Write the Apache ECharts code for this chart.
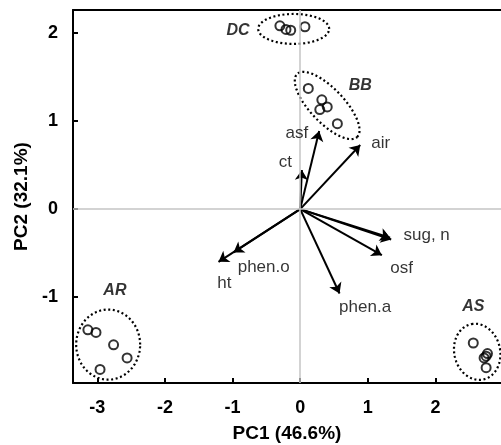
<!DOCTYPE html>
<html>
<head>
<meta charset="utf-8">
<script src="https://cdn.jsdelivr.net/npm/echarts@6/dist/echarts.min.js"></script>
<style>
html,body{margin:0;padding:0;background:#fff;}
#chart{width:501px;height:445px;}
</style>
</head>
<body>
<div id="chart"></div>
<script>
// Axis ticks
const xTicks = [-3, -2, -1, 0, 1, 2];
const yTicks = [-1, 0, 1, 2];

// Sample scores (PC1, PC2) per group
const dcX = [-0.30, -0.21, -0.14, 0.07];
const dcY = [2.08, 2.04, 2.03, 2.07];
const bbX = [0.12, 0.32, 0.40, 0.29, 0.55];
const bbY = [1.37, 1.24, 1.16, 1.13, 0.97];
const arX = [-3.14, -3.02, -2.76, -2.56, -2.96];
const arY = [-1.37, -1.40, -1.54, -1.69, -1.82];
const asX = [2.56, 2.77, 2.75, 2.72, 2.75];
const asY = [-1.52, -1.64, -1.67, -1.69, -1.80];

// Group names and label anchors
const groupNames = ['DC', 'BB', 'AR', 'AS'];
const groupLabelX = [-0.92, 0.89, -2.74, 2.56];
const groupLabelY = [2.03, 1.40, -0.92, -1.11];

// Group ellipses: centre and two conjugate semi-axis vectors (data units)
const ellCX = [-0.096, 0.399, -2.84, 2.618];
const ellCY = [2.045, 1.176, -1.538, -1.62];
const ellUX = [0.525, 0.443, 0.473, -0.085];
const ellUY = [0, -0.358, 0, 0.315];
const ellVX = [0, 0.182, 0, 0.333];
const ellVY = [0.17, 0.133, 0.398, 0.05];

// Loadings (arrows from origin)
const varNames = ['asf', 'ct', 'air', 'sug', 'n', 'osf', 'phen.a', 'phen.o', 'ht'];
const varX = [0.281, 0.025, 0.888, 1.346, 1.33, 1.208, 0.582, -0.986, -1.208];
const varY = [0.886, 0.443, 0.727, -0.345, -0.325, -0.523, -0.958, -0.492, -0.599];

// Arrow labels and anchors
const varLabels = ['asf', 'ct', 'air', 'sug, n', 'osf', 'phen.a', 'phen.o', 'ht'];
const varLabelX = [-0.05, -0.22, 1.19, 1.87, 1.50, 0.96, -0.54, -1.12];
const varLabelY = [0.86, 0.53, 0.75, -0.30, -0.67, -1.12, -0.66, -0.84];

const FONT = "'Liberation Sans', Arial, Helvetica, sans-serif";
const xMin = -3.36, xMax = 2.97, yMin = -1.974, yMax = 2.26;

const zip = (a, b) => a.map((v, i) => [v, b[i]]);
const samples = [].concat(zip(dcX, dcY), zip(bbX, bbY), zip(arX, arY), zip(asX, asY));

const chart = echarts.init(document.getElementById('chart'), null, {renderer: 'canvas'});

const option = {
  animation: false,
  backgroundColor: '#fff',
  grid: {left: 73, right: 0, top: 10, bottom: 62, containLabel: false, outerBoundsMode: 'none'},
  xAxis: [{
    type: 'value', min: xMin, max: xMax, position: 'bottom',
    axisLine: {onZero: false, lineStyle: {color: '#000', width: 2}},
    axisTick: {show: true, inside: true, length: 5, customValues: xTicks, lineStyle: {color: '#000', width: 2}},
    axisLabel: {customValues: xTicks, fontSize: 18, fontWeight: 'bold', color: '#000', margin: 16, fontFamily: FONT},
    splitLine: {show: false},
    name: 'PC1 (46.6%)', nameLocation: 'middle', nameGap: 41,
    nameTextStyle: {fontSize: 19, fontWeight: 'bold', color: '#000', fontFamily: FONT}
  }, {
    type: 'value', min: xMin, max: xMax, position: 'top',
    axisLine: {show: true, onZero: false, lineStyle: {color: '#000', width: 2}},
    axisTick: {show: false}, axisLabel: {show: false}, splitLine: {show: false}
  }],
  yAxis: [{
    type: 'value', min: yMin, max: yMax, position: 'left',
    axisLine: {show: true, onZero: false, lineStyle: {color: '#000', width: 2}},
    axisTick: {show: true, inside: true, length: 5, customValues: yTicks, lineStyle: {color: '#000', width: 2}},
    axisLabel: {customValues: yTicks, fontSize: 18, fontWeight: 'bold', color: '#000', margin: 15, fontFamily: FONT},
    splitLine: {show: false},
    name: 'PC2 (32.1%)', nameLocation: 'middle', nameGap: 34, nameRotate: 90,
    nameTextStyle: {fontSize: 19, fontWeight: 'bold', color: '#000', fontFamily: FONT}
  }],
  series: [
    {
      type: 'line', data: [], silent: true,
      markLine: {
        silent: true, symbol: ['none', 'none'], animation: false,
        label: {show: false},
        lineStyle: {color: '#c4c4c4', width: 1.5, type: 'solid'},
        data: [{xAxis: 0}, {yAxis: 0}]
      }
    },
    {
      type: 'custom', silent: true,
      data: groupNames.map((n, i) => i),
      renderItem: function (params, api) {
        const i = params.dataIndex;
        const pts = [];
        for (let k = 0; k <= 96; k++) {
          const t = k / 96 * Math.PI * 2;
          const c = Math.cos(t), s = Math.sin(t);
          pts.push(api.coord([ellCX[i] + ellUX[i] * c + ellVX[i] * s,
                              ellCY[i] + ellUY[i] * c + ellVY[i] * s]));
        }
        return {
          type: 'polyline',
          shape: {points: pts},
          style: {stroke: '#000', fill: null, lineWidth: 2.2, lineDash: [2, 2.6]}
        };
      }
    },
    {
      type: 'scatter', silent: true,
      symbol: 'circle', symbolSize: 9,
      itemStyle: {color: 'rgba(0,0,0,0)', borderColor: '#000', borderWidth: 2},
      data: samples, z: 3
    },
    {
      type: 'lines', coordinateSystem: 'cartesian2d', silent: true, polyline: false,
      symbol: ['none', 'arrow'], symbolSize: 10,
      lineStyle: {color: '#000', width: 2, opacity: 1, curveness: 0},
      data: varNames.map((n, i) => ({coords: [[0, 0], [varX[i], varY[i]]]})),
      z: 4
    },
    {
      type: 'scatter', silent: true, symbolSize: 0,
      data: varLabels.map((n, i) => ({name: n, value: [varLabelX[i], varLabelY[i]]})),
      label: {show: true, position: 'inside', formatter: '{b}', fontSize: 17, color: '#000', fontFamily: FONT},
      z: 5
    },
    {
      type: 'scatter', silent: true, symbolSize: 0,
      data: groupNames.map((n, i) => ({name: n, value: [groupLabelX[i], groupLabelY[i]]})),
      label: {show: true, position: 'inside', formatter: '{b}', fontSize: 16, fontWeight: 'bold', fontStyle: 'italic', color: '#000', fontFamily: FONT},
      z: 5
    }
  ]
};
chart.setOption(option);
</script>
</body>
</html>
